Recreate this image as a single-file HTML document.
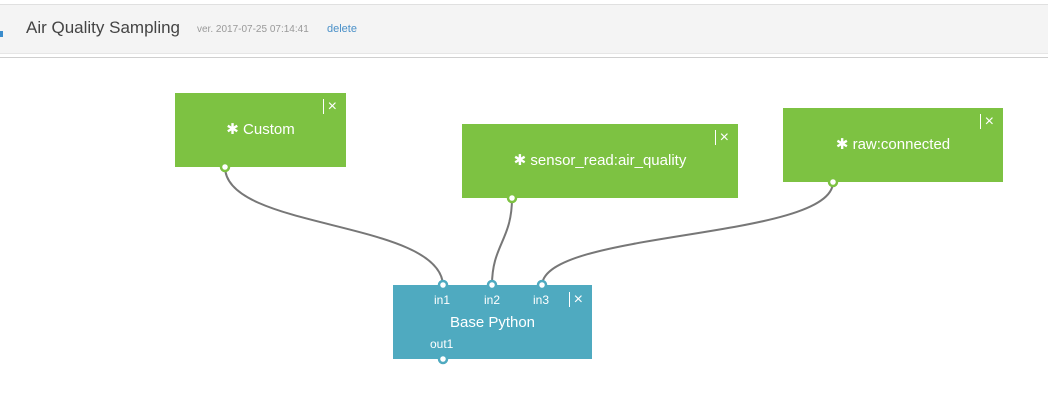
<!DOCTYPE html>
<html><head><style>
body{margin:0;width:1048px;height:404px;background:#fff;position:relative;overflow:hidden;font-family:"Liberation Sans",sans-serif}
.hdr{position:absolute;left:0;top:4px;width:1048px;height:48px;background:#f4f4f4;border-top:1px solid #e0e0e0;border-bottom:1px solid #e6e6e6}
.hl{position:absolute;left:0;top:57px;width:1048px;height:1px;background:#cfcfcf}
.t{position:absolute;left:26px;top:18px;font-size:17px;color:#444}
.v{position:absolute;left:197px;top:24px;font-size:10px;color:#999}
.d{position:absolute;left:327px;top:23px;font-size:11px;color:#4a90c8}
.blip{position:absolute;left:0;top:31px;width:3px;height:6px;background:#3a8ccc}
.n{position:absolute;background:#7dc242;color:#fff;font-size:15px;text-align:center}
.x{position:absolute;right:9px;top:6px;font-size:16px;color:#fff;border-left:1px solid #fff;padding-left:4px;line-height:15px}
</style></head><body>
<div class="hdr"></div><div class="hl"></div><div class="blip"></div>
<div class="t">Air Quality Sampling</div>
<div class="v">ver. 2017-07-25 07:14:41</div>
<div class="d">delete</div>
<svg width="1048" height="404" style="position:absolute;left:0;top:0">
<g fill="none" stroke="#777" stroke-width="2">
<path d="M225 167 C225 230,440 220,443 285"/>
<path d="M512 198 C512 240,492 245,492 285"/>
<path d="M833 182 C833 240,545 230,542 285"/>
</g>
</svg>
<div class="n" style="left:175px;top:93px;width:171px;height:74px;line-height:74px">✱ Custom<span class="x">×</span></div>
<div class="n" style="left:462px;top:124px;width:276px;height:74px;line-height:74px">✱ sensor_read:air_quality<span class="x">×</span></div>
<div class="n" style="left:783px;top:108px;width:220px;height:74px;line-height:74px">✱ raw:connected<span class="x">×</span></div>
<div class="n" style="left:393px;top:285px;width:199px;height:74px;background:#4faac0">
<span style="position:absolute;left:41px;top:8px;font-size:12px">in1</span>
<span style="position:absolute;left:91px;top:8px;font-size:12px">in2</span>
<span style="position:absolute;left:140px;top:8px;font-size:12px">in3</span>
<span class="x" style="top:7px">×</span>
<span style="position:absolute;left:0;width:199px;top:29px;font-size:15px">Base Python</span>
<span style="position:absolute;left:37px;top:52px;font-size:12px">out1</span>
</div>
<svg width="1048" height="404" style="position:absolute;left:0;top:0">
<g fill="#fff" stroke-width="2.5">
<circle cx="225" cy="167" r="4" stroke="#7dc242"/>
<circle cx="512" cy="198" r="4" stroke="#7dc242"/>
<circle cx="833" cy="182" r="4" stroke="#7dc242"/>
<circle cx="443" cy="285" r="4" stroke="#4faac0"/>
<circle cx="492" cy="285" r="4" stroke="#4faac0"/>
<circle cx="542" cy="285" r="4" stroke="#4faac0"/>
<circle cx="443" cy="359" r="4" stroke="#4faac0"/>
</g>
</svg>
</body></html>
